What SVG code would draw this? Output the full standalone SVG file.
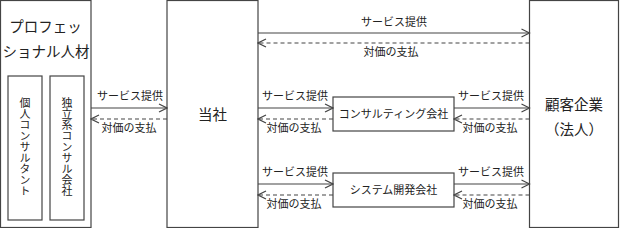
<svg xmlns="http://www.w3.org/2000/svg" width="621" height="228" viewBox="0 0 621 228">
<defs>
<style>
text{font-family:"Noto Sans CJK JP","Noto Sans CJK SC",sans-serif;fill:#222;}
.box{fill:#fff;stroke:#444;stroke-width:1.2;}
.t15{font-size:14.5px;text-anchor:middle;}
.t11{font-size:11px;text-anchor:middle;}
.v{font-size:11px;writing-mode:vertical-rl;text-anchor:middle;}
.sol{stroke:#444;stroke-width:1.2;fill:none;marker-end:url(#ah);}
.dsh{stroke:#444;stroke-width:1.2;fill:none;stroke-dasharray:4 3;marker-end:url(#ah);}
</style>
<marker id="ah" viewBox="0 0 10 10" refX="9" refY="5" markerWidth="10" markerHeight="10" markerUnits="userSpaceOnUse" orient="auto">
<path d="M1,1 L9,5 L1,9" fill="none" stroke="#444" stroke-width="1.2"/>
</marker>
</defs>
<rect width="621" height="228" fill="#fff"/>
<g id="professional">
<rect class="box" x="0.5" y="0.5" width="90.5" height="227"/>
<text class="t15" x="45.5" y="32">プロフェッ</text>
<text class="t15" x="46" y="57">ショナル人材</text>
<rect class="box" x="8" y="76" width="34" height="144"/>
<text class="v" x="25" y="147">個人コンサルタント</text>
<rect class="box" x="50" y="76" width="34" height="144"/>
<text class="v" x="67" y="147">独立系コンサル会社</text>
</g>
<g id="tosha">
<rect class="box" x="167" y="0.5" width="91" height="227"/>
<text class="t15" x="212.5" y="120">当社</text>
</g>
<g id="consulting">
<rect class="box" x="333" y="97" width="121" height="34"/>
<text class="t11" x="393.5" y="118">コンサルティング会社</text>
</g>
<g id="system">
<rect class="box" x="333" y="173" width="121" height="34"/>
<text class="t11" x="393.5" y="194">システム開発会社</text>
</g>
<g id="customer">
<rect class="box" x="529.5" y="0.5" width="89" height="227"/>
<text class="t15" x="574" y="110">顧客企業</text>
<text class="t15" x="574" y="135">（法人）</text>
</g>
<g id="connectors">
<line class="sol" x1="91" y1="108" x2="167" y2="108"/>
<line class="dsh" x1="167" y1="119" x2="91" y2="119"/>
<line class="sol" x1="258" y1="33" x2="529.5" y2="33"/>
<line class="dsh" x1="529.5" y1="43" x2="258" y2="43"/>
<line class="sol" x1="258" y1="108" x2="333" y2="108"/>
<line class="dsh" x1="333" y1="119" x2="258" y2="119"/>
<line class="sol" x1="454" y1="108" x2="529.5" y2="108"/>
<line class="dsh" x1="529.5" y1="119" x2="454" y2="119"/>
<line class="sol" x1="258" y1="184" x2="333" y2="184"/>
<line class="dsh" x1="333" y1="195" x2="258" y2="195"/>
<line class="sol" x1="454" y1="184" x2="529.5" y2="184"/>
<line class="dsh" x1="529.5" y1="195" x2="454" y2="195"/>
</g>
<g id="labels">
<text class="t11" x="130" y="100">サービス提供</text>
<text class="t11" x="129" y="132">対価の支払</text>
<text class="t11" x="394" y="26">サービス提供</text>
<text class="t11" x="391" y="56">対価の支払</text>
<text class="t11" x="295" y="100">サービス提供</text>
<text class="t11" x="294" y="132">対価の支払</text>
<text class="t11" x="491" y="100">サービス提供</text>
<text class="t11" x="490" y="132">対価の支払</text>
<text class="t11" x="295" y="176">サービス提供</text>
<text class="t11" x="294" y="208">対価の支払</text>
<text class="t11" x="491" y="176">サービス提供</text>
<text class="t11" x="490" y="208">対価の支払</text>
</g>
</svg>
